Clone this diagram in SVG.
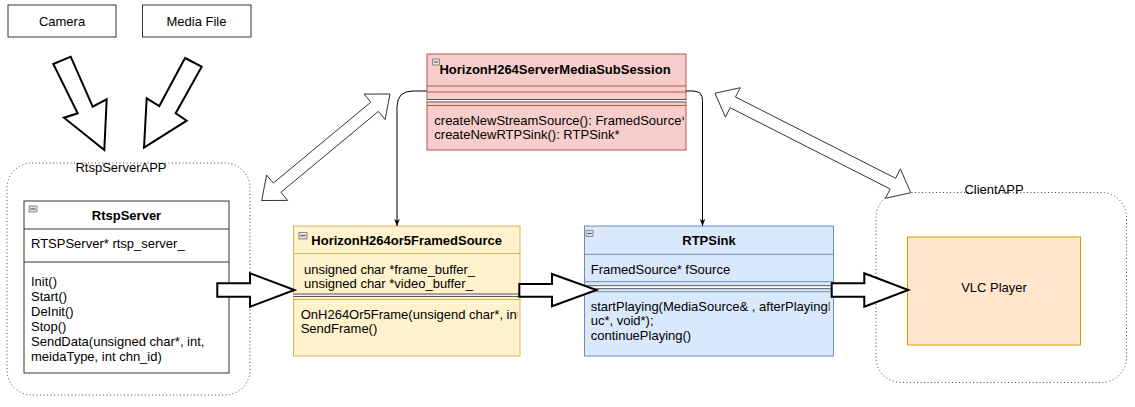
<svg xmlns="http://www.w3.org/2000/svg" width="1135" height="407" viewBox="0 0 1135 407">
<style>
text{font-family:"Liberation Sans",Arial,sans-serif;font-size:13px;fill:#000}
.b{font-weight:bold}
.m{text-anchor:middle}
.box{fill:#fff;stroke:#333;stroke-width:1}
.cont{fill:none;stroke:#444;stroke-width:1;stroke-dasharray:1 2.5}
.blk{fill:#fff;stroke:#000;stroke-width:2;stroke-linejoin:miter}
.dbl{fill:#fff;stroke:#333;stroke-width:1}
.con{fill:none;stroke:#000;stroke-width:1}
.dv{stroke:#555;stroke-width:1}
.ico{fill:#e0e0e0;stroke:#777;stroke-width:0.8}
.icl{stroke:#444;stroke-width:1}
</style>
<defs>
<marker id="ah" viewBox="0 0 10 8" refX="10" refY="4" markerWidth="7" markerHeight="8" markerUnits="userSpaceOnUse" orient="auto">
<path d="M0,0 L10,4 L0,8 L2.5,4 Z" fill="#000"/>
</marker>
<clipPath id="cpPink"><rect x="427" y="54" width="257" height="96"/></clipPath>
<clipPath id="cpYel"><rect x="293.5" y="226" width="224" height="130"/></clipPath>
<clipPath id="cpBlue"><rect x="584.5" y="226" width="245" height="130"/></clipPath>
</defs>

<g id="rtsp-server-app">
<rect class="cont" x="7" y="163" width="243" height="232" rx="25" ry="25"/>
<text class="m" x="121" y="172">RtspServerAPP</text>
</g>

<g id="client-app">
<rect class="cont" x="876" y="192.5" width="250.5" height="190" rx="25" ry="25"/>
<text class="m" x="994" y="194">ClientAPP</text>
</g>

<g id="camera">
<rect class="box" x="8" y="5" width="108" height="32"/>
<text class="m" x="62" y="25.5">Camera</text>
</g>

<g id="media-file">
<rect class="box" x="142.5" y="5" width="108.5" height="32"/>
<text class="m" x="196.5" y="25.5">Media File</text>
</g>

<g id="rtsp-server">
<rect class="box" x="24" y="201" width="205" height="172"/>
<line class="box" x1="24" y1="229" x2="229" y2="229"/>
<line class="box" x1="24" y1="262" x2="229" y2="262"/>
<rect class="ico" x="29" y="206" width="8" height="6"/>
<line class="icl" x1="30.5" y1="209" x2="35.5" y2="209"/>
<text class="b m" x="126.5" y="220">RtspServer</text>
<text x="31" y="247.5">RTSPServer* rtsp_server_</text>
<text x="31" y="285.5">Init()</text>
<text x="31" y="300.5">Start()</text>
<text x="31" y="315.5">DeInit()</text>
<text x="31" y="330.5">Stop()</text>
<text x="31" y="345.5">SendData(unsigned char*, int,</text>
<text x="31" y="360.5">meidaType, int chn_id)</text>
</g>

<g id="horizon-h264-server-media-subsession">
<rect x="427" y="54" width="259" height="96" fill="#f8cecc" stroke="#b85450"/>
<line x1="427" y1="86" x2="686" y2="86" stroke="#b85450"/>
<line x1="427" y1="92" x2="686" y2="92" stroke="#b85450"/>
<rect x="427" y="99.5" width="259" height="2.5" fill="#fff" stroke="none"/>
<line class="dv" x1="427" y1="99.5" x2="686" y2="99.5"/>
<line class="dv" x1="427" y1="102" x2="686" y2="102"/>
<line x1="427" y1="105.5" x2="686" y2="105.5" stroke="#b85450"/>
<rect class="ico" x="432.5" y="59" width="7" height="6"/>
<line class="icl" x1="434" y1="62" x2="438" y2="62"/>
<text class="b m" x="555" y="73.5">HorizonH264ServerMediaSubSession</text>
<g clip-path="url(#cpPink)">
<text x="434.3" y="124.5">createNewStreamSource(): FramedSource*</text>
<text x="434.3" y="138.8">createNewRTPSink(): RTPSink*</text>
</g>
</g>

<g id="horizon-h264or5-framed-source">
<rect x="293.5" y="226" width="226.5" height="130" fill="#fff2cc" stroke="#d6b656"/>
<line x1="293.5" y1="253.5" x2="520" y2="253.5" stroke="#d6b656"/>
<rect x="293.5" y="294" width="226.5" height="2.5" fill="#eee" stroke="none"/>
<line class="dv" x1="293.5" y1="294" x2="520" y2="294"/>
<line class="dv" x1="293.5" y1="296.5" x2="520" y2="296.5"/>
<line x1="293.5" y1="299.5" x2="520" y2="299.5" stroke="#d6b656"/>
<rect class="ico" x="299" y="232.5" width="8" height="6.5"/>
<line class="icl" x1="300.5" y1="235.7" x2="305.5" y2="235.7"/>
<text class="b m" x="406.7" y="245.3">HorizonH264or5FramedSource</text>
<g clip-path="url(#cpYel)">
<text x="304" y="273.8">unsigned char *frame_buffer_</text>
<text x="304" y="287.8">unsigned char *video_buffer_</text>
<text x="300.7" y="318.8">OnH264Or5Frame(unsigend char*, int</text>
<text x="300.7" y="332.8">SendFrame()</text>
</g>
</g>

<g id="rtp-sink">
<rect x="584.5" y="226" width="249" height="130" fill="#dae8fc" stroke="#6c8ebf"/>
<line x1="584.5" y1="254.3" x2="833.5" y2="254.3" stroke="#6c8ebf"/>
<line x1="584.5" y1="281.7" x2="833.5" y2="281.7" stroke="#6c8ebf"/>
<rect x="584.5" y="285.7" width="249" height="3" fill="#fff" stroke="none"/>
<line class="dv" x1="584.5" y1="285.7" x2="833.5" y2="285.7"/>
<line class="dv" x1="584.5" y1="288.7" x2="833.5" y2="288.7"/>
<line x1="584.5" y1="291.7" x2="833.5" y2="291.7" stroke="#6c8ebf"/>
<rect class="ico" x="586" y="230.5" width="7" height="6"/>
<line class="icl" x1="587.5" y1="233.5" x2="591.5" y2="233.5"/>
<text class="b m" x="709" y="245.3">RTPSink</text>
<g clip-path="url(#cpBlue)">
<text x="590.7" y="273.8">FramedSource* fSource</text>
<text x="590.7" y="311.2">startPlaying(MediaSource&amp; , afterPlayingF</text>
<text x="590.7" y="324.5">uc*, void*);</text>
<text x="590.7" y="339.5">continuePlaying()</text>
</g>
</g>

<g id="vlc-player">
<rect x="907.5" y="237" width="173" height="108" fill="#ffe6cc" stroke="#d79b00"/>
<text class="m" x="994" y="292">VLC Player</text>
</g>

<g id="connectors">
<polygon class="blk" points="53.3,64 70.7,56.7 92.7,106.7 106.7,99.3 104.3,150 64,117.7 77.7,113.3"/>
<polygon class="blk" points="185,58 201.7,66.7 175.7,113.3 186.7,120.7 144,147.7 146.7,98.3 159.3,106"/>
<polygon class="dbl" points="261.7,200.5 287.6,200.4 280.9,192.3 378.4,111.4 385.1,119.5 390,94 364.1,94.1 370.8,102.2 273.3,183.1 266.6,175"/>
<polygon class="dbl" points="715,93.3 740.3,87.7 735.5,97 895.6,178.3 900.4,168.9 910.7,192.7 885.4,198.3 890.2,189 730.1,107.7 725.4,117.1"/>
<path class="con" d="M426.7,91 H413 Q397,91 397,107 V226" marker-end="url(#ah)"/>
<path class="con" d="M686,91 H693 Q702.5,91 702.5,100.5 V226" marker-end="url(#ah)"/>
<polygon class="blk" points="217.3,283.3 250,283.3 250,273.3 294.5,290 250,306.7 250,296.7 217.3,296.7"/>
<polygon class="blk" points="519.3,284 552,284 552,274 596.5,290 552,306.3 552,296.7 519.3,296.7"/>
<polygon class="blk" points="831.7,283.3 864.3,283.3 864.3,273.3 908.3,290 864.3,306.7 864.3,296.7 831.7,296.7"/>
</g>
</svg>
